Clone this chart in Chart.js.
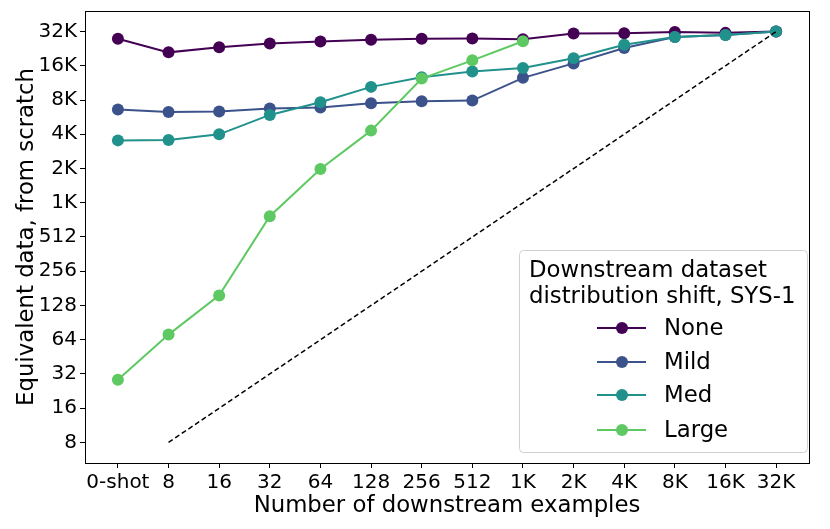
<!DOCTYPE html>
<html><head><meta charset="utf-8">
<script src="https://cdn.jsdelivr.net/npm/chart.js@4.4.0/dist/chart.umd.min.js"></script>
<style>html,body{margin:0;padding:0;background:#fff;}#wrap{width:830px;height:529px;}</style>
</head><body><div id="wrap"><canvas id="c" width="830" height="529"></canvas></div>
<script>
const categories = ['0-shot','8','16','32','64','128','256','512','1K','2K','4K','8K','16K','32K'];
const yTickValues = [8,16,32,64,128,256,512,1024,2048,4096,8192,16384,32768];
const yTickLabels = ['8','16','32','64','128','256','512','1K','2K','4K','8K','16K','32K'];
const noneShift = [28300,21500,23900,25700,26800,27700,28300,28400,28100,31500,31700,32500,31900,32768];
const mildShift = [6750,6440,6480,6890,7030,7670,7990,8100,12830,17200,23500,29400,30600,32768];
const medShift = [3620,3650,4090,6060,7830,10690,12990,14570,15700,19100,25100,29400,30600,32768];
const largeShift = [28.4,71,157,780,2030,4410,12650,18300,26900];
const equalData = [null,8,16,32,64,128,256,512,1024,2048,4096,8192,16384,32768];
const seriesNames = ['None','Mild','Med','Large'];
const seriesColors = ['#440154','#3b528b','#21918c','#5ec962'];
const legendTitle = ['Downstream dataset','distribution shift, SYS-1'];
const xLabel = 'Number of downstream examples';
const yLabel = 'Equivalent data, from scratch';

const FONT = '"DejaVu Sans", sans-serif';
const toPts = arr => arr.map((v,i)=>({x:i,y:v})).filter(p=>p.y!==null);

function lineDs(label, data, color, order){
  return {label, data: toPts(data), borderColor: color, backgroundColor: color,
    borderWidth: 2, pointRadius: 6, pointHoverRadius: 6, pointBorderWidth: 0,
    pointBackgroundColor: color, order, tension: 0};
}

const frame = {
  id:'frame',
  afterDraw(chart){
    const a = chart.chartArea, ctx = chart.ctx;
    ctx.save(); ctx.strokeStyle='#000'; ctx.lineWidth=1;
    ctx.strokeRect(Math.round(a.left)+0.5, Math.round(a.top)+0.5, Math.round(a.right-a.left), Math.round(a.bottom-a.top));
    ctx.restore();
  }
};

const customLegend = {
  id:'customLegend',
  afterDatasetsDraw(chart){
    const ctx = chart.ctx, a = chart.chartArea;
    const w = 288, h = 202;
    const x = a.right - 2 - w, y = a.bottom - 11 - h;
    ctx.save();
    ctx.beginPath();
    if (ctx.roundRect) ctx.roundRect(x+0.5, y+0.5, w, h, 4); else ctx.rect(x+0.5,y+0.5,w,h);
    ctx.fillStyle = 'rgba(255,255,255,0.8)'; ctx.fill();
    ctx.strokeStyle = '#d0d0d0'; ctx.lineWidth = 1; ctx.stroke();
    ctx.fillStyle = '#000';
    ctx.font = '22.8px ' + FONT;
    ctx.textAlign = 'left'; ctx.textBaseline = 'alphabetic';
    ctx.fillText(legendTitle[0], x+10, y+27);
    ctx.fillText(legendTitle[1], x+10, y+53);
    const rows = [78, 112, 145, 180];
    seriesNames.forEach((name,i)=>{
      const cy = y + rows[i];
      ctx.strokeStyle = seriesColors[i]; ctx.lineWidth = 2;
      ctx.beginPath(); ctx.moveTo(x+78, cy); ctx.lineTo(x+127, cy); ctx.stroke();
      ctx.fillStyle = seriesColors[i];
      ctx.beginPath(); ctx.arc(x+103, cy, 6, 0, Math.PI*2); ctx.fill();
      ctx.fillStyle = '#000'; ctx.textBaseline = 'middle';
      ctx.fillText(name, x+145, cy+1);
    });
    ctx.restore();
  }
};

new Chart(document.getElementById('c'), {
  type: 'line',
  data: {
    datasets: [
      lineDs(seriesNames[0], noneShift, seriesColors[0], 4),
      lineDs(seriesNames[1], mildShift, seriesColors[1], 3),
      lineDs(seriesNames[2], medShift, seriesColors[2], 2),
      lineDs(seriesNames[3], largeShift, seriesColors[3], 1),
      {label:'equal', data: toPts(equalData), borderColor:'#000', borderWidth:1.5,
       borderDash:[5,3], pointRadius:0, order:0, fill:false}
    ]
  },
  options: {
    responsive: false, animation: false, devicePixelRatio: 1,
    layout: {padding: {left:0, top:11, right:21, bottom:0}},
    plugins: {legend:{display:false}, tooltip:{enabled:false}},
    scales: {
      x: {
        type:'linear', min:-0.65, max:13.65,
        afterBuildTicks: s => { s.ticks = categories.map((c,i)=>({value:i})); },
        afterFit: s => { s.height = 66; },
        border: {display:false},
        grid: {drawOnChartArea:false, drawTicks:true, tickLength:5, tickColor:'#000', tickWidth:1},
        ticks: {autoSkip:false, maxRotation:0, minRotation:0, padding:3, color:'#000',
          font:{family:FONT, size:20}, callback: v => categories[Math.round(v)]},
        title: {display:true, text:xLabel, color:'#000', font:{family:FONT, size:22.8}, padding:{top:9,bottom:9}}
      },
      y: {
        type:'logarithmic', min: Math.pow(2,2.4), max: Math.pow(2,15.6),
        afterBuildTicks: s => { s.ticks = yTickValues.map(v=>({value:v})); },
        afterFit: s => { s.width = 85; s.paddingTop = 0; s.paddingBottom = 0; },
        border: {display:false},
        grid: {drawOnChartArea:false, drawTicks:true, tickLength:5, tickColor:'#000', tickWidth:1},
        ticks: {autoSkip:false, padding:3, color:'#000', font:{family:FONT, size:20, lineHeight:1.0},
          callback: v => { const i = yTickValues.indexOf(v); return i>=0 ? yTickLabels[i] : ''; }},
        title: {display:true, text:yLabel, color:'#000', font:{family:FONT, size:22.8}, padding:{top:13,bottom:13}}
      }
    }
  },
  plugins: [frame, customLegend]
});
</script></body></html>
